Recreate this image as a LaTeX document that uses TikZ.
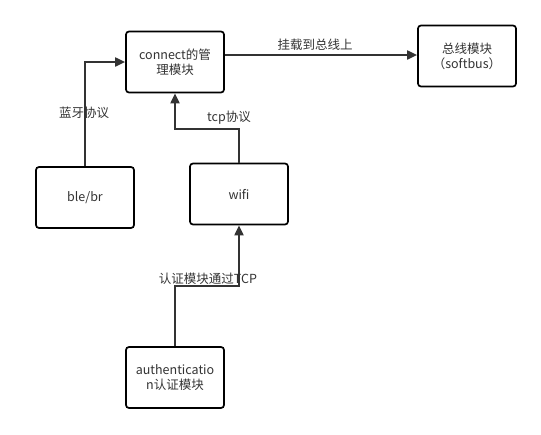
\documentclass[tikz,border=0pt]{standalone}
\usepackage{fontspec}
\setmainfont{Noto Sans CJK SC}
\usetikzlibrary{arrows.meta}
\definecolor{ink}{HTML}{333333}
\tikzset{
  box/.style={draw=black, line width=1.7pt, rounded corners=3pt, fill=white, minimum width=98pt, minimum height=61pt, inner sep=0pt, align=center, text=ink, font=\fontsize{12.5}{15}\selectfont},
  conn/.style={draw=ink, line width=1.9pt, -{Triangle[length=10pt,width=9pt]}},
  lbl/.style={text=ink, font=\fontsize{12.5}{14}\selectfont, inner sep=0pt}
}
\begin{document}
\begin{tikzpicture}[x=1pt,y=-1pt]
\useasboundingbox (0,0) rectangle (541,434);
\node[box] (connect) at (175,62) {connect的管\\理模块};
\node[box] (bus) at (467,56) {总线模块\\（softbus）};
\node[box] (ble) at (85,197.5) {ble/br};
\node[box] (wifi) at (239,194) {wifi};
\node[box] (auth) at (175,377.5) {authenticatio\\n认证模块};
\coordinate (c1) at (85,62);
\coordinate (c2) at (239,129);
\coordinate (c3) at (175,129);
\coordinate (c4) at (175,286);
\coordinate (c5) at (239,286);
\draw[conn] (connect.east |- 0,55) -- (bus.west |- 0,55);
\draw[conn] (ble.north) -- (c1) -- (connect.west |- c1);
\draw[conn] (wifi.north) -- (c2) -- (c3) -- (connect.south -| c3);
\draw[conn] (auth.north) -- (c4) -- (c5) -- (wifi.south -| c5);
\node[lbl] (l1) at (315,45) {挂载到总线上};
\node[lbl] (l2) at (84,113) {蓝牙协议};
\node[lbl] (l3) at (229,118) {tcp协议};
\node[lbl] (l4) at (208,279) {认证模块通过TCP};
\end{tikzpicture}
\end{document}
